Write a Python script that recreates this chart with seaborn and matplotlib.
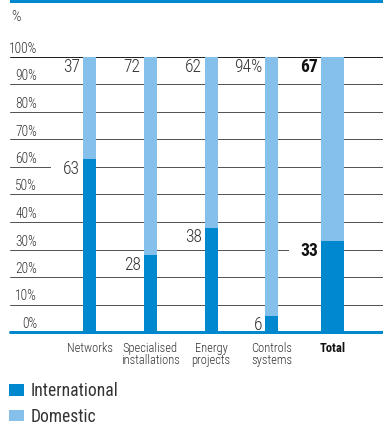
import matplotlib
matplotlib.use("Agg")
import matplotlib.pyplot as plt
from matplotlib.patches import Patch, Rectangle
from matplotlib.offsetbox import AnnotationBbox, DrawingArea
import seaborn as sns
import pandas as pd

sns.set_theme(style="white")
plt.rcParams["font.family"] = ["Roboto Condensed", "DejaVu Sans"]
plt.rcParams["font.weight"] = "light"

# Share of revenue by business area (%)
segments = ["Networks", "Specialised installations", "Energy projects", "Controls systems", "Total"]
tick_labels = ["Networks", "Specialised\ninstallations", "Energy\nprojects", "Controls\nsystems", "Total"]
international = [63, 28, 38, 6, 33]
domestic = [37, 72, 62, 94, 67]
domestic_labels = ["37", "72", "62", "94%", "67"]
y_ticks = [0, 10, 20, 30, 40, 50, 60, 70, 80, 90, 100]

DARK = "#0088CE"
LIGHT = "#85C0EA"
GRID = "#555555"
TEXT = "#333333"

df = pd.DataFrame({
    "segment": segments,
    "International": international,
    "Domestic": domestic,
})
df["stack_top"] = df["International"] + df["Domestic"]

W, H = 383, 425
fig = plt.figure(figsize=(W / 72, H / 72), dpi=72)
ax = fig.add_axes([10 / W, (H - 332) / H, 373 / W, 275 / H])

narrow_w = 0.214
total_w = 0.379

# light blue full-height bars, dark blue international share over them
sns.barplot(data=df, x="segment", y="stack_top", order=segments, color=LIGHT,
            width=narrow_w, saturation=1, ax=ax, zorder=2, edgecolor="none", linewidth=0)
sns.barplot(data=df, x="segment", y="International", order=segments, color=DARK,
            width=narrow_w, saturation=1, ax=ax, zorder=3, edgecolor="none", linewidth=0)

# widen the Total column
n = len(segments)
for i, p in enumerate(ax.patches):
    if i % n == n - 1:
        cx = p.get_x() + p.get_width() / 2
        p.set_width(total_w)
        p.set_x(cx - total_w / 2)

ax.set_xlim(-1.309, 4.831)
ax.set_ylim(0, 100)
ax.set_xlabel("")
ax.set_ylabel("")
ax.set_yticks([])
for s in ax.spines.values():
    s.set_visible(False)

# horizontal rules
for v in y_ticks[1:]:
    ax.axhline(v, color="#222222" if v == 100 else GRID, lw=1.0, zorder=1, clip_on=False)
ax.axhline(0, color=DARK, lw=3, zorder=4, clip_on=False)

# y labels sitting just above each rule
ytrans = ax.get_yaxis_transform()
for v in y_ticks:
    ax.annotate(f"{v}%", xy=((37 - 10) / 373, v), xycoords=ytrans,
                xytext=(0, 4), textcoords="offset points",
                ha="right", va="baseline", fontsize=13.5, color=TEXT)

# x category labels
ax.set_xticks(range(n))
ax.set_xticklabels(tick_labels, fontsize=12.5, color=TEXT, linespacing=0.92)
ax.tick_params(axis="x", length=0, pad=10)
ax.get_xticklabels()[-1].set_fontweight("bold")
ax.get_xticklabels()[-1].set_color("#111111")

# value labels to the left of each bar
for i, seg in enumerate(segments):
    w = total_w if i == n - 1 else narrow_w
    left = i - w / 2
    weight = "bold" if i == n - 1 else "light"
    col = "#111111" if i == n - 1 else TEXT
    ax.annotate(domestic_labels[i], xy=(left, international[i] + domestic[i]),
                xytext=(-3, -1), textcoords="offset points",
                ha="right", va="top", fontsize=17.5, fontweight=weight, color=col, zorder=5)
    # white backing that interrupts the rules behind the international label
    pad = DrawingArea(32, 17, 0, 0)
    pad.add_artist(Rectangle((0, 0), 32, 17, facecolor="white", edgecolor="none"))
    ab = AnnotationBbox(pad, (left, international[i]), xybox=(0, 2), boxcoords="offset points",
                        box_alignment=(1, 1), frameon=False, pad=0)
    ab.set_zorder(1.5)
    ax.add_artist(ab)
    ax.annotate(str(international[i]), xy=(left, international[i]),
                xytext=(-3, -1), textcoords="offset points",
                ha="right", va="top", fontsize=17.5, fontweight=weight, color=col, zorder=5)

# header band and unit
fig.add_artist(Rectangle((10 / W, 1 - 3 / H), 373 / W, 3 / H, transform=fig.transFigure,
                         color=DARK, lw=0))
fig.text(11 / W, 1 - 17 / H, "%", ha="left", va="center", fontsize=15, color=TEXT)

handles = [Patch(facecolor=DARK, edgecolor="none", label="International"),
           Patch(facecolor=LIGHT, edgecolor="none", label="Domestic")]
fig.legend(handles=handles, loc="upper left", bbox_to_anchor=(9 / W, 1 - 382 / H),
           frameon=False, prop={"size": 17.5, "weight": "normal"},
           handlelength=0.85, handleheight=0.62,
           handletextpad=0.4, labelspacing=0.45, borderaxespad=0, borderpad=0,
           labelcolor=TEXT)

fig.savefig("out.png", dpi=72)
